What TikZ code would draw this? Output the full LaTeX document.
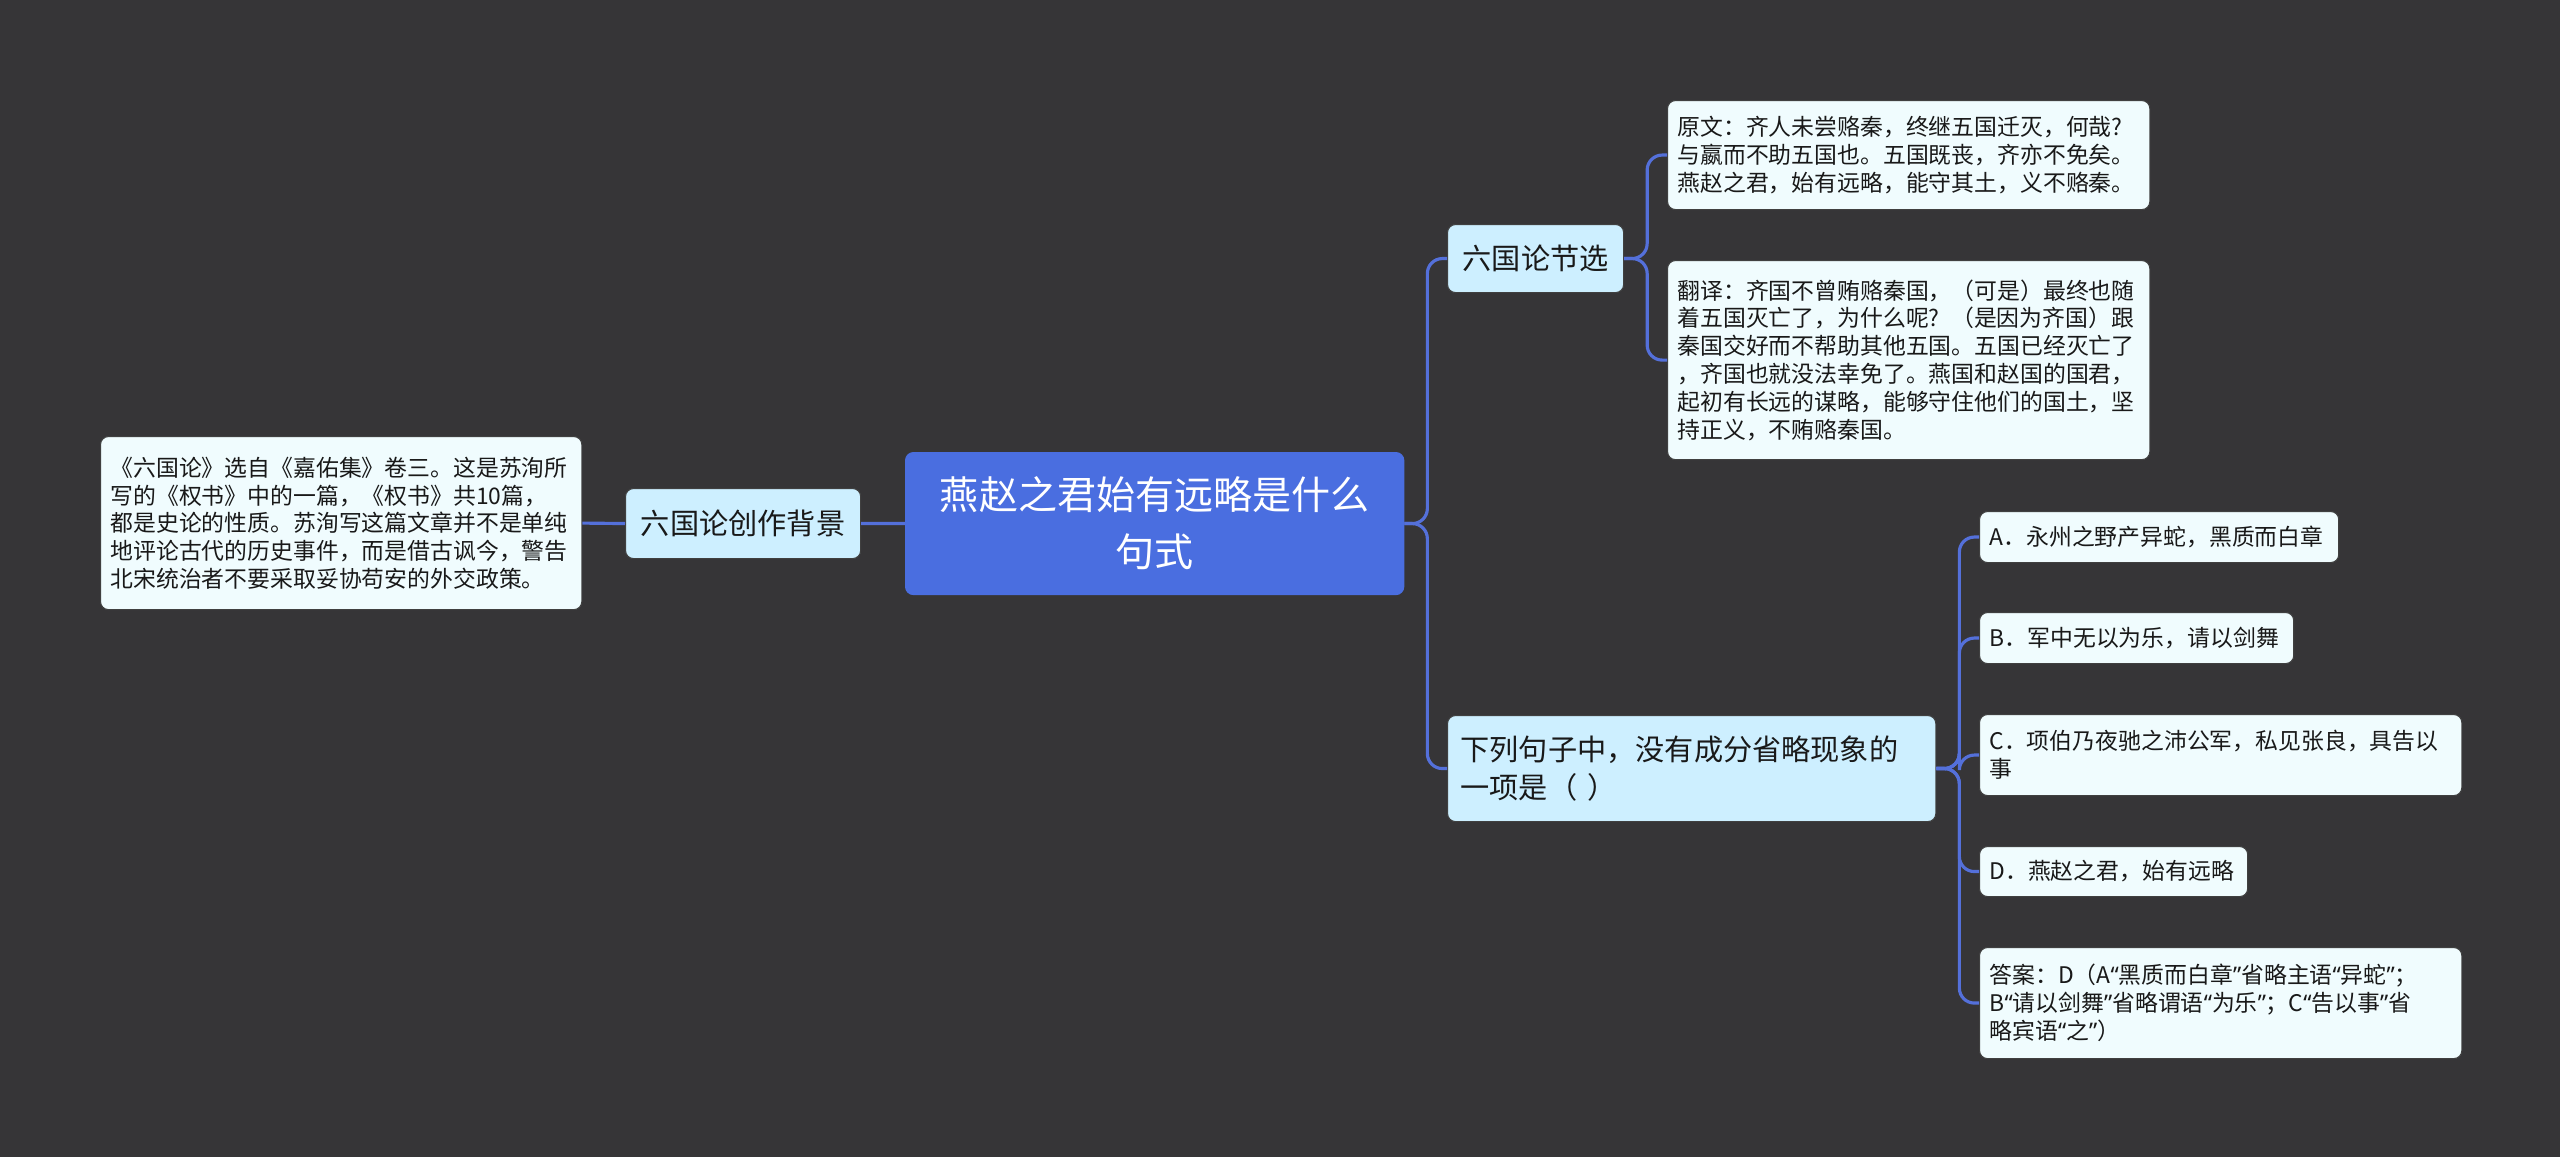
\documentclass[tikz,border=0pt]{standalone}
\usepackage{fontspec}
\setmainfont{Noto Sans CJK SC}
\newfontfamily\quotefont{Noto Sans}
\newcommand{\oq}{{\quotefont“}}
\newcommand{\cq}{{\quotefont”}}
\usetikzlibrary{calc}

\definecolor{bgcol}{HTML}{363537}
\definecolor{rootcol}{HTML}{4A6EE0}
\definecolor{midcol}{HTML}{CDEFFF}
\definecolor{leafcol}{HTML}{F0FCFE}
\definecolor{linkcol}{HTML}{5470DA}

\begin{document}
\begin{tikzpicture}[x=0.01cm, y=-0.01cm,
	box/.style={rounded corners=0.08cm, anchor=north west, inner ysep=0pt,
		draw=black!75, line width=0.3pt},
	rootbox/.style={box, fill=rootcol, draw=rootcol, text=white, align=center,
		inner xsep=0.2cm, font=\fontsize{11.1pt}{16.2pt}\selectfont},
	midbox/.style={box, fill=midcol, text=black!90, inner xsep=0.13cm,
		font=\fontsize{8.3pt}{10.8pt}\selectfont},
	leafbox/.style={box, fill=leafcol, text=black!90, align=left, inner xsep=0.1cm,
		font=\fontsize{6.5pt}{7.9pt}\selectfont},
	link/.style={draw=linkcol, line width=0.9pt, rounded corners=0.15cm}]

% background %{{{2

	\fill[bgcol] (0,0) rectangle (2560,1157);
	\useasboundingbox (0,0) rectangle (2560,1157);

% parameters %{{{2

	\def\gap{23}

% root %{{{2

	\node[rootbox, text width=4.58cm, minimum height=1.42cm] (root) at (905,452)
		{燕赵之君始有远略是什么\\句式};

% left branch %{{{2

	\node[midbox, align=center, text width=2.09cm, minimum height=0.70cm] (bg) at (625,488)
		{六国论创作背景};
	\node[leafbox, text width=4.61cm, minimum height=1.73cm] (bgleaf) at (100,436)
		{《六国论》选自《嘉佑集》卷三。这是苏洵所\\
		 写的《权书》中的一篇，《权书》共10篇，\\
		 都是史论的性质。苏洵写这篇文章并不是单纯\\
		 地评论古代的历史事件，而是借古讽今，警告\\
		 北宋统治者不要采取妥协苟安的外交政策。};

% right branch, excerpt %{{{2

	\node[midbox, align=center, text width=1.50cm, minimum height=0.68cm] (jx) at (1447,224)
		{六国论节选};
	\node[leafbox, text width=4.62cm, minimum height=1.09cm] (yw) at (1667,100)
		{原文：齐人未尝赂秦，终继五国迁灭，何哉?\\
		 与嬴而不助五国也。五国既丧，齐亦不免矣。\\
		 燕赵之君，始有远略，能守其土，义不赂秦。};
	\node[leafbox, text width=4.62cm, minimum height=1.99cm] (fy) at (1667,260)
		{翻译：齐国不曾贿赂秦国，（可是）最终也随\\
		 着五国灭亡了，为什么呢? （是因为齐国）跟\\
		 秦国交好而不帮助其他五国。五国已经灭亡了\\
		 ，齐国也就没法幸免了。燕国和赵国的国君，\\
		 起初有长远的谋略，能够守住他们的国土，坚\\
		 持正义，不贿赂秦国。};

% right branch, question %{{{2

	\node[midbox, align=left, text width=4.62cm, minimum height=1.06cm] (q) at (1447,715)
		{下列句子中，没有成分省略现象的\\一项是（ ）};

	\node[leafbox, text width=3.39cm, minimum height=0.51cm] (A) at (1979,511)
		{A．永州之野产异蛇，黑质而白章};
	\node[leafbox, text width=2.94cm, minimum height=0.51cm] (B) at (1979,612)
		{B．军中无以为乐，请以剑舞};
	\node[leafbox, text width=4.62cm, minimum height=0.81cm] (C) at (1979,714)
		{C．项伯乃夜驰之沛公军，私见张良，具告以\\事};
	\node[leafbox, text width=2.48cm, minimum height=0.50cm] (D) at (1979,846)
		{D．燕赵之君，始有远略};
	\node[leafbox, text width=4.62cm, minimum height=1.11cm] (E) at (1979,947)
		{答案：D（A\oq 黑质而白章\cq 省略主语\oq 异蛇\cq ；\\
		 B\oq 请以剑舞\cq 省略谓语\oq 为乐\cq ；C\oq 告以事\cq 省\\
		 略宾语\oq 之\cq ）};

% connectors %{{{2

	\draw[link] (root.west) -- (bg.east);
	\draw[link] (bg.west) -- (bgleaf.east);

	\foreach \c in {jx,q} { \draw[link] (root.east) -- ++(\gap,0) |- (\c.west); }
	\foreach \c in {yw,fy} { \draw[link] (jx.east) -- ++(\gap,0) |- (\c.west); }
	\foreach \c in {A,B,C,D,E} { \draw[link] (q.east) -- ++(\gap,0) |- (\c.west); }

% closing %{{{2

\end{tikzpicture}
\end{document}
